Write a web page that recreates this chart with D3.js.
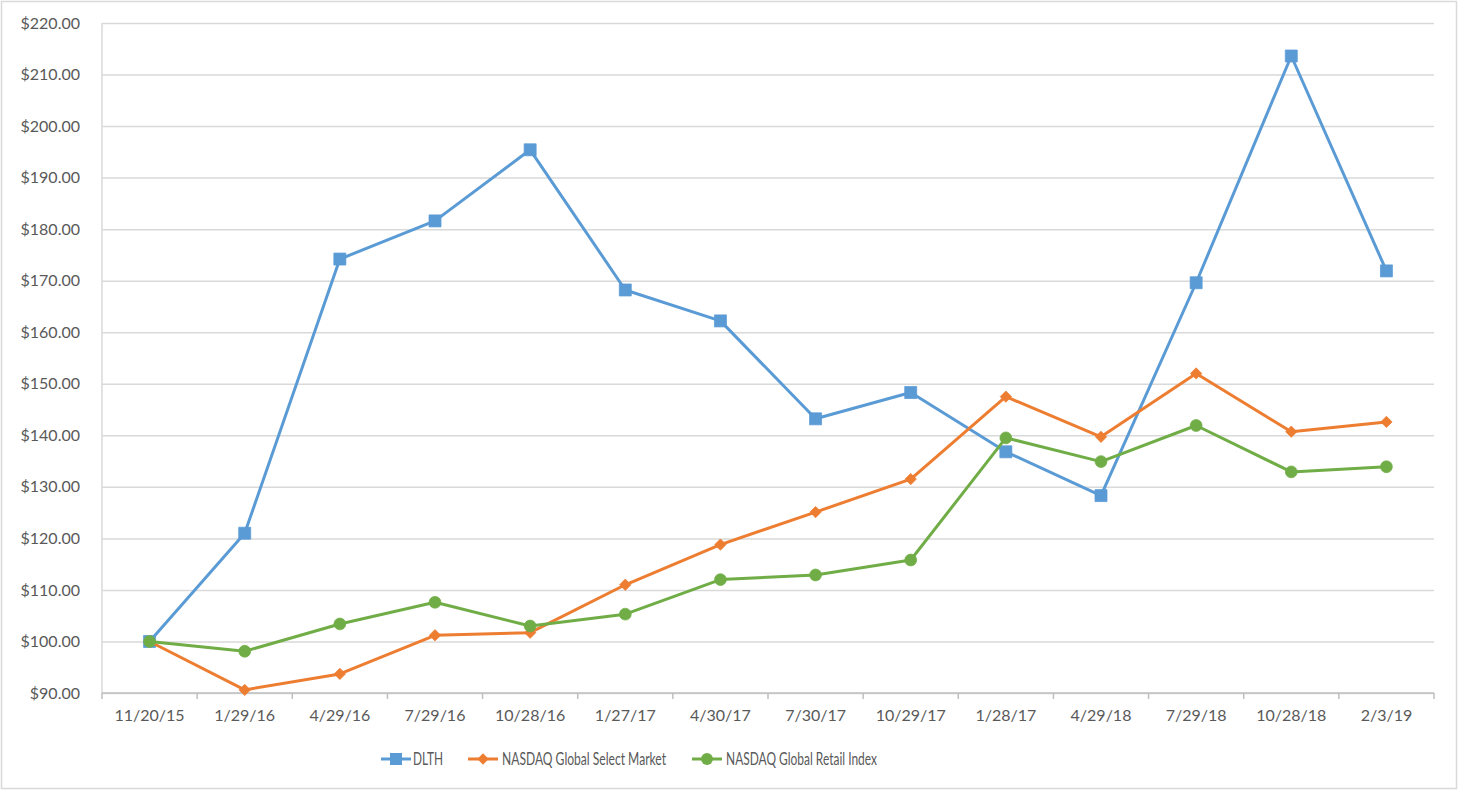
<!DOCTYPE html>
<html>
<head>
<meta charset="utf-8">
<script src="https://cdn.jsdelivr.net/npm/d3@7"></script>
<style>
  html, body { margin: 0; padding: 0; background: #fff; }
  svg { display: block; }
  text { font-family: Lato, "Open Sans", sans-serif; fill: #595959; }
</style>
</head>
<body>
<svg id="chart" width="1458" height="790"></svg>
<script>
const categories = ["11/20/15","1/29/16","4/29/16","7/29/16","10/28/16","1/27/17","4/30/17","7/30/17","10/29/17","1/28/17","4/29/18","7/29/18","10/28/18","2/3/19"];
const dlth   = [100.0, 121.0, 174.2, 181.6, 195.4, 168.2, 162.2, 143.2, 148.3, 136.8, 128.3, 169.6, 213.6, 171.9];
const nasdaqSelect = [100.0, 90.6, 93.7, 101.2, 101.7, 111.0, 118.8, 125.1, 131.5, 147.5, 139.7, 152.0, 140.7, 142.6];
const nasdaqRetail = [100.0, 98.1, 103.4, 107.6, 103.0, 105.3, 112.0, 112.9, 115.8, 139.5, 134.9, 141.9, 132.9, 133.9];
const seriesNames = ["DLTH","NASDAQ Global Select Market","NASDAQ Global Retail Index"];
const yTicks = [90,100,110,120,130,140,150,160,170,180,190,200,210,220];

const colors = ["#5B9BD5","#ED7D31","#70AD47"];
const shapes = [d3.symbolSquare, d3.symbolSquare, d3.symbolCircle];
const shapeSizes = [144, 64, 110];
const shapeRot = [0, 45, 0];

const svg = d3.select("#chart");
const W = 1458, H = 790;
const pLeft = 102, pRight = 1434, pTop = 23, pBottom = 693;

// chart border
svg.append("rect").attr("x",1.5).attr("y",1.5).attr("width",W-3).attr("height",H-3)
  .attr("fill","#fff").attr("stroke","#D9D9D9").attr("stroke-width",1.5);

const x = d3.scaleBand().domain(categories).range([pLeft,pRight]).paddingInner(0).paddingOuter(0);
const cx = d => x(d) + x.bandwidth()/2;
const y = d3.scaleLinear().domain([90,220]).range([pBottom,pTop]);

// y axis with gridlines
const yAxis = d3.axisLeft(y).tickValues(yTicks).tickSize(-(pRight-pLeft)).tickPadding(22)
  .tickFormat(v => "$" + v.toFixed(2));
const gy = svg.append("g").attr("transform",`translate(${pLeft},0)`).call(yAxis);
gy.select(".domain").remove();
gy.selectAll(".tick line").attr("stroke","#D9D9D9").attr("stroke-width",1.5);
gy.selectAll(".tick text").attr("font-size",16).attr("fill","#595959");

// left vertical axis line
svg.append("line").attr("x1",pLeft).attr("x2",pLeft).attr("y1",y(220)).attr("y2",y(90))
  .attr("stroke","#D9D9D9").attr("stroke-width",1.5);

// x axis
const xAxis = d3.axisBottom(x).tickSize(0).tickPadding(17);
const gx = svg.append("g").attr("transform",`translate(0,${pBottom})`).call(xAxis);
gx.select(".domain").remove();
gx.selectAll(".tick text").attr("font-size",16).attr("fill","#595959");
svg.append("line").attr("x1",pLeft).attr("x2",pRight).attr("y1",pBottom).attr("y2",pBottom)
  .attr("stroke","#BFBFBF").attr("stroke-width",1.5);
const boundaries = categories.map(c => x(c)).concat([x.range()[1]]);
svg.append("g").selectAll("line").data(boundaries).join("line")
  .attr("x1",d=>d).attr("x2",d=>d).attr("y1",pBottom).attr("y2",pBottom+6)
  .attr("stroke","#BFBFBF").attr("stroke-width",1.5);

// series
const allSeries = [dlth, nasdaqSelect, nasdaqRetail];
const line = d3.line().x((d,i)=>cx(categories[i])).y(d=>y(d));
allSeries.forEach((vals,si) => {
  const g = svg.append("g");
  g.append("path").datum(vals).attr("d",line).attr("fill","none")
    .attr("stroke",colors[si]).attr("stroke-width",3).attr("stroke-linejoin","round");
  g.selectAll("path.m").data(vals).join("path").attr("class","m")
    .attr("transform",(d,i)=>`translate(${cx(categories[i])},${y(d)}) rotate(${shapeRot[si]})`)
    .attr("d", d3.symbol().type(shapes[si]).size(shapeSizes[si]))
    .attr("fill",colors[si]).attr("stroke",colors[si]).attr("stroke-width",0.75);
});

// legend
const legendItems = [
  {x0:381, textX:413, w:30},
  {x0:468, textX:502, w:164},
  {x0:692, textX:726, w:151}
];
const ly = 759;
legendItems.forEach((it,i) => {
  const g = svg.append("g");
  g.append("line").attr("x1",it.x0).attr("x2",it.x0+30).attr("y1",ly).attr("y2",ly)
    .attr("stroke",colors[i]).attr("stroke-width",3);
  g.append("path").attr("transform",`translate(${it.x0+15},${ly}) rotate(${shapeRot[i]})`)
    .attr("d", d3.symbol().type(shapes[i]).size(shapeSizes[i]))
    .attr("fill",colors[i]);
  g.append("text").attr("x",it.textX).attr("y",ly).attr("dy","0.36em")
    .attr("font-size",17).attr("textLength",it.w).attr("lengthAdjust","spacingAndGlyphs")
    .text(seriesNames[i]);
});
</script>
</body>
</html>
